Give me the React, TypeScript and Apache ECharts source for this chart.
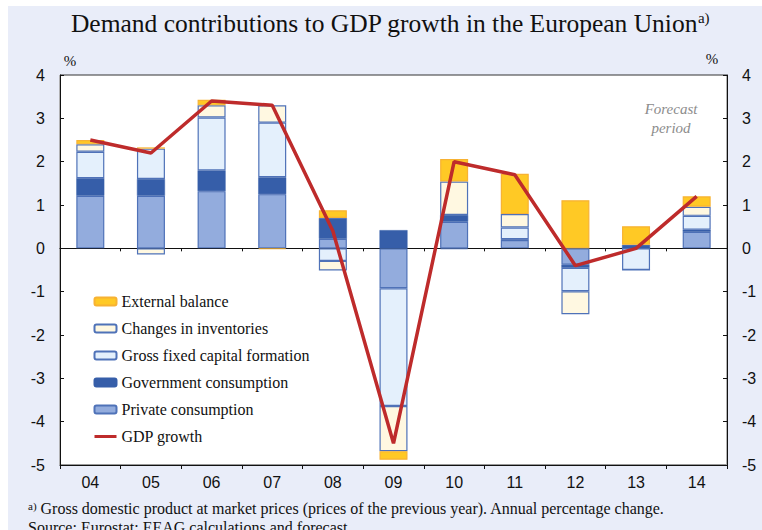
import React, { useEffect, useRef } from "react";
import * as echarts from "echarts";

const years = ["04", "05", "06", "07", "08", "09", "10", "11", "12", "13", "14"];
const privateCons = [1.21, 1.21, 1.32, 1.25, 0.22, -0.92, 0.61, 0.19, -0.38, 0.0, 0.38];
const govCons = [0.41, 0.39, 0.48, 0.39, 0.48, 0.42, 0.16, 0.02, -0.07, 0.08, 0.05];
const gfcf = [0.61, 0.7, 1.22, 1.26, -0.29, -2.72, -0.02, 0.27, -0.54, -0.5, 0.32];
const inventories = [0.17, -0.14, 0.28, 0.4, -0.22, -1.04, 0.77, 0.31, -0.53, 0.0, 0.21];
const external = [0.1, 0.03, 0.13, -0.02, 0.18, -0.2, 0.52, 0.93, 1.11, 0.43, 0.24];
const gdp = [2.5, 2.2, 3.4, 3.3, 0.4, -4.5, 2.0, 1.7, -0.4, 0.0, 1.2];

const SERIF = "'Liberation Serif', 'DejaVu Serif', serif";
const SANS = "'Liberation Sans', Arial, sans-serif";
const BLUE_BORDER = "#4F72B8";

export default function App() {
  const ref = useRef<HTMLDivElement>(null);
  useEffect(() => {
    if (!ref.current) return;
    const chart = echarts.init(ref.current, null, { renderer: "svg" });
    const barBase = (name: string, data: number[], color: string, border: string, bw = 1.2) => ({
      name,
      type: "bar",
      stack: "total",
      data,
      barWidth: 28,
      xAxisIndex: 0,
      yAxisIndex: 0,
      itemStyle: { color, borderColor: border, borderWidth: bw },
    });
    chart.setOption({
      animation: false,
      backgroundColor: "#E9EDF9",
      grid: {
        left: 52,
        right: 35,
        top: 69,
        bottom: 65,
        show: true,
        backgroundColor: "#ffffff",
        borderColor: "#333",
        borderWidth: 1,
      },
      legend: {
        orient: "vertical",
        left: 80,
        top: 282,
        itemWidth: 22,
        itemHeight: 8,
        itemGap: 10,
        textStyle: { fontFamily: SERIF, fontSize: 16, color: "#111", lineHeight: 17 },
        data: [
          "External balance",
          "Changes in inventories",
          "Gross fixed capital formation",
          "Government consumption",
          "Private consumption",
          { name: "GDP growth", itemStyle: { opacity: 0 }, lineStyle: { width: 3, color: "#BE2B2B" } },
        ],
      },
      xAxis: [
        {
          type: "category",
          data: years,
          position: "bottom",
          axisLine: { onZero: false, lineStyle: { color: "#111", width: 1 } },
          axisTick: { show: true, inside: false, length: 4, lineStyle: { color: "#111" } },
          axisLabel: { fontFamily: SANS, fontSize: 16, color: "#111", margin: 9 },
          splitLine: { show: false },
        },
        {
          type: "category",
          data: years,
          position: "bottom",
          axisLine: { onZero: true, onZeroAxisIndex: 0, lineStyle: { color: "#111", width: 1.2 } },
          axisTick: { show: true, inside: false, length: 3, lineStyle: { color: "#111" } },
          axisLabel: { show: false },
          splitLine: {
            show: true,
            interval: (idx: number) => idx === 9,
            lineStyle: { color: "#BDBDBD", width: 1.5 },
          },
        },
      ],
      yAxis: [
        {
          type: "value",
          min: -5,
          max: 4,
          interval: 1,
          position: "left",
          axisLine: { show: true, lineStyle: { color: "#111" } },
          axisTick: { show: true, inside: true, length: 4, lineStyle: { color: "#111" } },
          axisLabel: { fontFamily: SANS, fontSize: 16, color: "#111", margin: 15 },
          splitLine: { show: false },
        },
        {
          type: "value",
          min: -5,
          max: 4,
          interval: 1,
          position: "right",
          axisLine: { show: true, lineStyle: { color: "#111" } },
          axisTick: { show: true, inside: true, length: 4, lineStyle: { color: "#111" } },
          axisLabel: { fontFamily: SANS, fontSize: 16, color: "#111", margin: 15 },
          splitLine: { show: false },
        },
      ],
      series: [
        barBase("Private consumption", privateCons, "#93ACDD", BLUE_BORDER),
        barBase("Government consumption", govCons, "#365EA9", "#365EA9", 0.5),
        barBase("Gross fixed capital formation", gfcf, "#E4F0FC", BLUE_BORDER),
        barBase("Changes in inventories", inventories, "#FFF8E1", BLUE_BORDER),
        barBase("External balance", external, "#FFC925", "#F7B233"),
        {
          name: "GDP growth",
          type: "line",
          data: gdp,
          symbol: "none",
          z: 5,
          lineStyle: { color: "#BE2B2B", width: 3.5 },
          itemStyle: { color: "#BE2B2B" },
        },
      ],
      graphic: [
        {
          type: "text",
          x: 382,
          y: 17,
          style: {
            text: "Demand contributions to GDP growth in the European Union{s|a)}",
            font: `25.5px ${SERIF}`,
            fill: "#111",
            align: "center",
            verticalAlign: "middle",
            rich: {
              s: { fontSize: 15, fontFamily: SERIF, verticalAlign: "top", fill: "#111" },
            },
          },
        },
        {
          type: "text",
          x: 62,
          y: 55,
          style: { text: "%", font: `15px ${SERIF}`, fill: "#111", align: "center", verticalAlign: "middle" },
        },
        {
          type: "text",
          x: 704,
          y: 53,
          style: { text: "%", font: `15px ${SERIF}`, fill: "#111", align: "center", verticalAlign: "middle" },
        },
        {
          type: "text",
          x: 663,
          y: 103,
          style: { text: "Forecast", font: `italic 15px ${SERIF}`, fill: "#8C8C8C", align: "center", verticalAlign: "middle" },
        },
        {
          type: "text",
          x: 663,
          y: 122,
          style: { text: "period", font: `italic 15px ${SERIF}`, fill: "#8C8C8C", align: "center", verticalAlign: "middle" },
        },
        {
          type: "text",
          x: 20,
          y: 502,
          style: {
            text: "{s|a)} Gross domestic product at market prices (prices of the previous year). Annual percentage change.",
            font: `16px ${SERIF}`,
            fill: "#111",
            verticalAlign: "middle",
            rich: { s: { fontSize: 11, fontFamily: SERIF, verticalAlign: "top", fill: "#111" } },
          },
        },
        {
          type: "text",
          x: 20,
          y: 521,
          style: {
            text: "Source: Eurostat; EEAG calculations and forecast.",
            font: `16px ${SERIF}`,
            fill: "#111",
            verticalAlign: "middle",
          },
        },
      ],
    });
    return () => chart.dispose();
  }, []);
  return (
    <div
      ref={ref}
      style={{ position: "fixed", left: 8, top: 6, width: 754, height: 524 }}
    />
  );
}
